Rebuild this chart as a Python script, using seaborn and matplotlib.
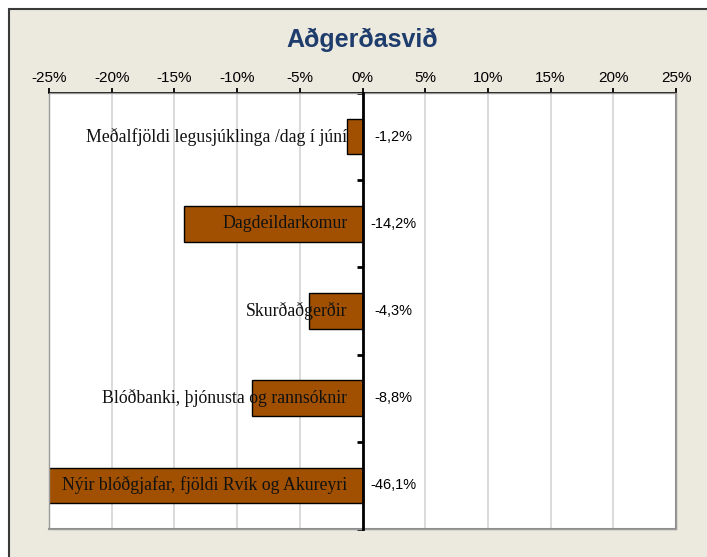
import matplotlib
matplotlib.use("Agg")
import matplotlib.pyplot as plt
from matplotlib.patches import Rectangle
from matplotlib.ticker import FuncFormatter, FixedLocator
import seaborn as sns
import pandas as pd

# Data
title = "Aðgerðasvið"
categories = [
    "Meðalfjöldi legusjúklinga /dag í júní",
    "Dagdeildarkomur",
    "Skurðaðgerðir",
    "Blóðbanki, þjónusta og rannsóknir",
    "Nýir blóðgjafar, fjöldi Rvík og Akureyri",
]
changes = [-1.2, -14.2, -4.3, -8.8, -46.1]
x_ticks = [-25, -20, -15, -10, -5, 0, 5, 10, 15, 20, 25]

df = pd.DataFrame({"category": categories, "change": changes})

sns.set_theme(style="white")
plt.rcParams["font.family"] = ["Liberation Sans", "DejaVu Sans"]

W, H = 707, 557
fig = plt.figure(figsize=(W / 100, H / 100), dpi=100)
fig.patch.set_facecolor("white")

# Beige panel with a dark frame on the top and left
panel = Rectangle((9 / W, -0.05), 1.1, (H - 9) / H + 0.05,
                  transform=fig.transFigure, facecolor="#ECE9DF",
                  edgecolor="#3A3A3A", linewidth=1.5, zorder=-1)
fig.add_artist(panel)

left, right, top, bottom = 49, 676, 93, 529
ax = fig.add_axes([left / W, (H - bottom) / H, (right - left) / W, (bottom - top) / H])
ax.set_zorder(1)
ax.set_facecolor("white")

sns.barplot(data=df, x="change", y="category", orient="h", color="#A05000",
            saturation=1, edgecolor="black", linewidth=1.0, width=0.41, ax=ax,
            zorder=2)

ax.set_xlim(-25, 25)
ax.set_ylim(len(categories) - 0.5, -0.5)
ax.set_xlabel("")
ax.set_ylabel("")

# X axis on top
ax.xaxis.set_ticks_position("top")
ax.xaxis.set_label_position("top")
ax.set_xticks(x_ticks)
ax.xaxis.set_major_formatter(FuncFormatter(lambda v, p: f"{int(round(v))}%"))
ax.tick_params(axis="x", which="major", direction="out", length=3.6, width=1.3,
               color="black", pad=2.5, labelsize=11, labelcolor="black",
               top=True, bottom=False)

# Vertical gridlines
ax.grid(axis="x", color="#D4D4D4", linewidth=1.2, zorder=0)
ax.grid(axis="y", visible=False)
ax.set_axisbelow(True)

# Category axis on the zero line, ticks at category boundaries
ax.spines["left"].set_position(("data", 0))
ax.spines["left"].set_color("black")
ax.spines["left"].set_linewidth(2.0)
ax.spines["left"].set_zorder(4)
ax.yaxis.set_major_locator(FixedLocator([i - 0.5 for i in range(len(categories) + 1)]))
ax.set_yticklabels([])
ax.tick_params(axis="y", which="major", direction="out", length=4, width=2,
               color="black", left=True, right=False)

ax.spines["top"].set_color("black")
ax.spines["top"].set_linewidth(1.3)
for s in ("bottom", "right"):
    ax.spines[s].set_color("#8C8C8C")
    ax.spines[s].set_linewidth(1.5)

# Plot-area border on the left side
ax.add_patch(Rectangle((0, 0), 1, 1, transform=ax.transAxes, fill=False,
                       edgecolor="#9A9A9A", linewidth=1.0, zorder=3, clip_on=False))

# Category names and value labels
for i, (cat, val) in enumerate(zip(categories, changes)):
    ax.annotate(cat, xy=(0, i), xytext=(-15, 0), textcoords="offset pixels",
                ha="right", va="center", fontsize=12.8, color="#111111",
                family=["Liberation Serif", "DejaVu Serif"], zorder=5)
    ax.annotate(f"{val:.1f}%".replace(".", ","), xy=(0, i), xytext=(31, 0),
                textcoords="offset pixels", ha="center", va="center",
                fontsize=10.5, color="black", zorder=5)

fig.text((left + right) / 2 / W, 1 - 40 / H, title, ha="center", va="center",
         fontsize=18, fontweight="bold", color="#1F3D6C")

fig.savefig("out.png", dpi=100, facecolor=fig.get_facecolor())
